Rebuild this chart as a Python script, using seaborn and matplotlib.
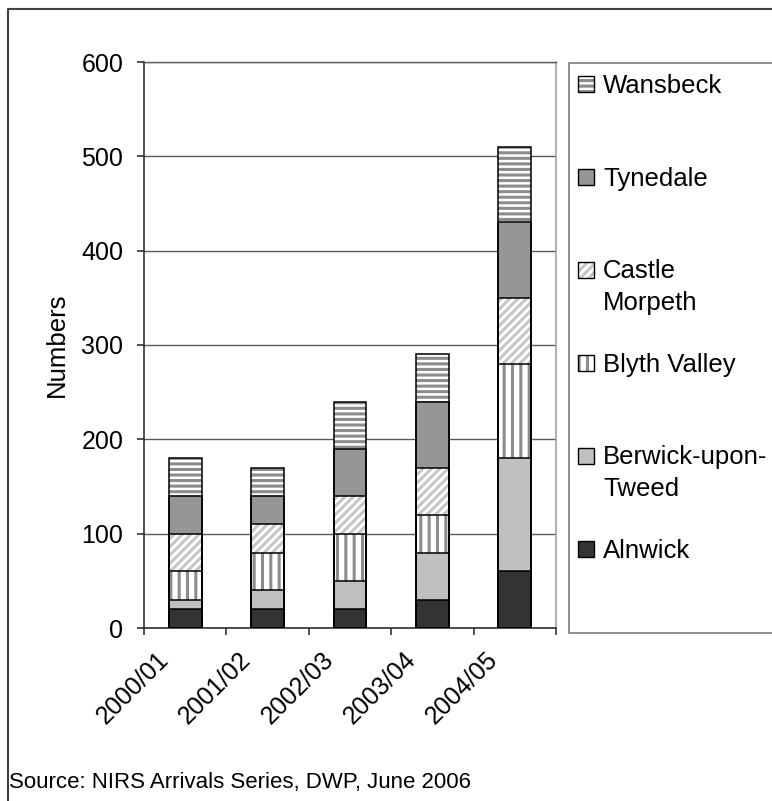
import numpy as np
import pandas as pd
import matplotlib
matplotlib.use("Agg")
import matplotlib.pyplot as plt
from matplotlib.lines import Line2D
from matplotlib.patches import Rectangle
from matplotlib.transforms import Affine2D, ScaledTranslation
import seaborn as sns

# ---- data -------------------------------------------------------------
years = ["2000/01", "2001/02", "2002/03", "2003/04", "2004/05"]
districts = ["Alnwick", "Berwick-upon-Tweed", "Blyth Valley",
             "Castle Morpeth", "Tynedale", "Wansbeck"]
legend_labels = ["Alnwick", "Berwick-upon-\nTweed", "Blyth Valley",
                 "Castle\nMorpeth", "Tynedale", "Wansbeck"]

alnwick = [20, 20, 20, 30, 60]
berwick_upon_tweed = [10, 20, 30, 50, 120]
blyth_valley = [30, 40, 50, 40, 100]
castle_morpeth = [40, 30, 40, 50, 70]
tynedale = [40, 30, 50, 70, 80]
wansbeck = [40, 30, 50, 50, 80]

y_ticks = [0, 100, 200, 300, 400, 500, 600]
y_title = "Numbers"
source_note = "Source: NIRS Arrivals Series, DWP, June 2006"

series = [alnwick, berwick_upon_tweed, blyth_valley,
          castle_morpeth, tynedale, wansbeck]

# long table with the cumulative top of every stacked segment
df = pd.DataFrame({
    "year": np.tile(years, len(districts)),
    "district": np.repeat(districts, len(years)),
    "count": np.concatenate(series),
})
df["district"] = pd.Categorical(df["district"], categories=districts, ordered=True)
df = df.sort_values(["year", "district"])
df["top"] = df.groupby("year")["count"].cumsum()

# fill colour, hatch pattern, hatch colour
styles = {
    "Alnwick": ("#333333", None, "#333333"),
    "Berwick-upon-Tweed": ("#c0c0c0", None, "#c0c0c0"),
    "Blyth Valley": ("white", "||", "#8c8c8c"),
    "Castle Morpeth": ("white", "////", "#c6c6c6"),
    "Tynedale": ("#969696", None, "#969696"),
    "Wansbeck": ("white", "---", "#8c8c8c"),
}

# ---- style ------------------------------------------------------------
sns.set_theme(style="white")
plt.rcParams["font.family"] = ["Liberation Sans", "DejaVu Sans"]
plt.rcParams["hatch.linewidth"] = 2.2
FS = 18.5

W, H = 772, 801
fig = plt.figure(figsize=(W / 100, H / 100), dpi=100)
fig.patch.set_facecolor("white")
ax = fig.add_axes([144 / W, 1 - 628 / H, 412 / W, 566 / H])
ax.set_facecolor("white")

# stacked bars: tallest cumulative layer first, lower layers painted over it
for d in reversed(districts):
    sub = df[df["district"] == d]
    face, hatch, hcol = styles[d]
    sns.barplot(data=sub, x="year", y="top", order=years, ax=ax,
                color=face, saturation=1, width=0.4, errorbar=None,
                hatch=hatch, edgecolor=hcol, linewidth=0, zorder=2)
    sns.barplot(data=sub, x="year", y="top", order=years, ax=ax,
                color="black", fill=False, width=0.4, errorbar=None,
                linewidth=1.1, zorder=3)

ax.set_xlim(-0.5, len(years) - 0.5)
ax.set_ylim(y_ticks[0], y_ticks[-1])
ax.set_yticks(y_ticks)
ax.yaxis.grid(True, color="#5a5a5a", linewidth=1.0)
ax.xaxis.grid(False)
ax.set_axisbelow(True)

for side in ["left", "bottom"]:
    ax.spines[side].set_color("#222222")
    ax.spines[side].set_linewidth(1.1)
ax.spines["right"].set_color("#9a9a9a")
ax.spines["right"].set_linewidth(1.1)
ax.spines["top"].set_color("#5a5a5a")
ax.spines["top"].set_linewidth(1.0)

ax.tick_params(axis="y", direction="out", length=5, width=1.1, pad=10,
               labelsize=18, colors="#222222", labelcolor="black", left=True)
ax.set_xticks(range(len(years)))
ax.set_xticklabels(years, rotation=45, ha="right", va="top")
ax.tick_params(axis="x", which="major", length=0, pad=14, labelsize=18,
               labelcolor="black")
ax.set_xticks(np.arange(-0.5, len(years), 1.0), minor=True)
ax.tick_params(axis="x", which="minor", direction="out", length=5, width=1.1,
               colors="#222222", bottom=True)
shift = ScaledTranslation(-0.12, 0, fig.dpi_scale_trans)
for lbl in ax.get_xticklabels():
    lbl.set_transform(lbl.get_transform() + shift)

ax.set_xlabel("")
ax.set_ylabel(y_title, fontsize=FS, color="black")
ax.yaxis.set_label_coords(-0.182, 0.5)

# ---- legend panel and frame (pixel coordinates measured from the top) --
px = Affine2D().scale(1 / W, -1 / H).translate(0, 1) + fig.transFigure

fig.add_artist(Line2D([8, 8, W + 10], [H + 10, 9, 9], transform=px,
                      color="#404040", linewidth=1.5))
fig.add_artist(Line2D([W + 10, 569, 569, W + 10], [63, 63, 633, 633],
                      transform=px, color="#7a7a7a", linewidth=1.2))

LINE_GAP = 31
for i, idx in enumerate(reversed(range(len(districts)))):
    d = districts[idx]
    face, hatch, hcol = styles[d]
    base = 93 + 93 * i
    label = legend_labels[idx]
    fig.add_artist(Rectangle((578, base - 17), 16, 16, transform=px,
                             facecolor=face, hatch=hatch, edgecolor=hcol,
                             linewidth=0))
    fig.add_artist(Rectangle((578, base - 17), 16, 16, transform=px,
                             facecolor="none", edgecolor="black",
                             linewidth=1.0))
    # baseline alignment follows the last line, so push multi-line labels down
    extra = LINE_GAP * label.count("\n")
    fig.text(603, base + extra, label, transform=px, fontsize=FS,
             va="baseline", ha="left", linespacing=1.4, color="black")

fig.text(9, 788, source_note, transform=px, fontsize=16, va="baseline",
         ha="left", color="black")

fig.savefig("out.png", dpi=100, facecolor="white")
